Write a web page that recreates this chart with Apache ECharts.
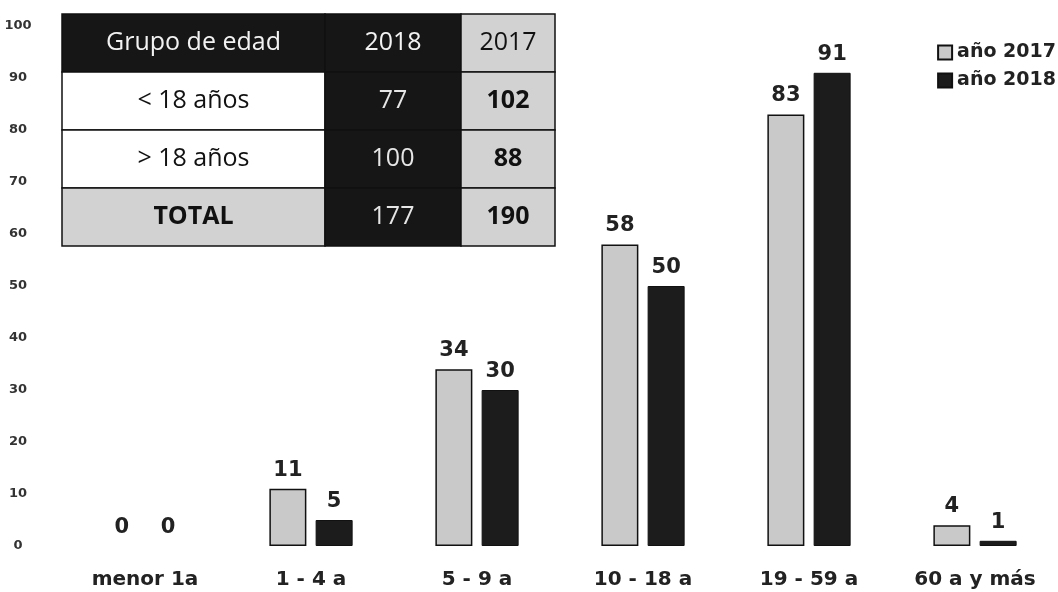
<!DOCTYPE html>
<html>
<head>
<meta charset="utf-8">
<script src="https://cdn.jsdelivr.net/npm/echarts@6/dist/echarts.min.js"></script>
<style>html,body{margin:0;padding:0;background:#fff;}#c{width:1058px;height:592px;}</style>
</head>
<body>
<div id="c"></div>
<script>
const categories = ['menor 1a', '1 - 4 a', '5 - 9 a', '10 - 18 a', '19 - 59 a', '60 a y más'];
const values2017 = [0, 11, 34, 58, 83, 4];
const values2018 = [0, 5, 30, 50, 91, 1];
const seriesNames = ['año 2017', 'año 2018'];
const tableHeader = ['Grupo de edad', '2018', '2017'];
const tableRowLabels = ['< 18 años', '> 18 años', 'TOTAL'];
const table2018 = ['77', '100', '177'];
const table2017 = ['102', '88', '190'];

const chart = echarts.init(document.getElementById('c'));

// table layout
const tx = 62, ty = 14, colW = [263, 136, 94], rowH = 58;
const dark = '#161616', light = '#d2d2d2', white = '#ffffff';
const g = [];
function cell(ci, ri, text, fill, color, bold) {
  let x = tx; for (let k = 0; k < ci; k++) x += colW[k];
  const y = ty + ri * rowH;
  g.push({type: 'rect', shape: {x: x, y: y, width: colW[ci], height: rowH},
    style: {fill: fill, stroke: '#111', lineWidth: 1.5}, z: 10});
  g.push({type: 'text', x: x + colW[ci] / 2, y: y + rowH / 2, z: 11,
    style: {text: text, fill: color, font: (bold ? 'bold ' : '') + '25px "Open Sans", sans-serif',
      align: 'center', verticalAlign: 'middle'}});
}
cell(0, 0, tableHeader[0], dark, '#f2f2f2', false);
cell(1, 0, tableHeader[1], dark, '#f2f2f2', false);
cell(2, 0, tableHeader[2], light, '#111', false);
tableRowLabels.forEach((lab, i) => {
  const last = i === tableRowLabels.length - 1;
  cell(0, i + 1, lab, last ? light : white, '#111', last);
  cell(1, i + 1, table2018[i], dark, '#e6e6e6', false);
  cell(2, i + 1, table2017[i], light, '#111', true);
});

const labelStyle = {show: true, position: 'top', distance: 8, color: '#222',
  fontFamily: 'DejaVu Sans', fontWeight: 'bold', fontSize: 21};
// zero-height bars have no visible outline in the reference
const noEdge = v => (v === 0 ? {value: v, itemStyle: {borderWidth: 0}} : v);

chart.setOption({
  animation: false,
  backgroundColor: '#fff',
  grid: {left: 62, right: -3, top: 26, bottom: 46},
  legend: {
    data: seriesNames, orient: 'vertical', right: -3, top: 38, itemGap: 9,
    icon: 'rect', itemWidth: 14, itemHeight: 14,
    textStyle: {fontFamily: 'DejaVu Sans', fontWeight: 'bold', fontSize: 19, color: '#222'}
  },
  xAxis: {
    type: 'category', data: categories,
    axisLine: {show: false}, axisTick: {show: false},
    axisLabel: {margin: 24, fontFamily: 'DejaVu Sans', fontWeight: 'bold', fontSize: 20, color: '#222'}
  },
  yAxis: {
    type: 'value', min: 0, max: 100, interval: 10,
    axisLine: {show: false}, axisTick: {show: false}, splitLine: {show: false},
    axisLabel: {margin: 44, fontFamily: 'DejaVu Sans', fontWeight: 'bold', fontSize: 13, color: '#333', align: 'center'}
  },
  series: [
    {name: seriesNames[0], type: 'bar', data: values2017.map(noEdge), barWidth: 37, barGap: '25%',
      itemStyle: {color: '#c9c9c9', borderColor: '#111', borderWidth: 1.5}, label: labelStyle},
    {name: seriesNames[1], type: 'bar', data: values2018.map(noEdge), barWidth: 37,
      itemStyle: {color: '#1c1c1c', borderColor: '#111', borderWidth: 1}, label: labelStyle}
  ],
  graphic: g
});
</script>
</body>
</html>
